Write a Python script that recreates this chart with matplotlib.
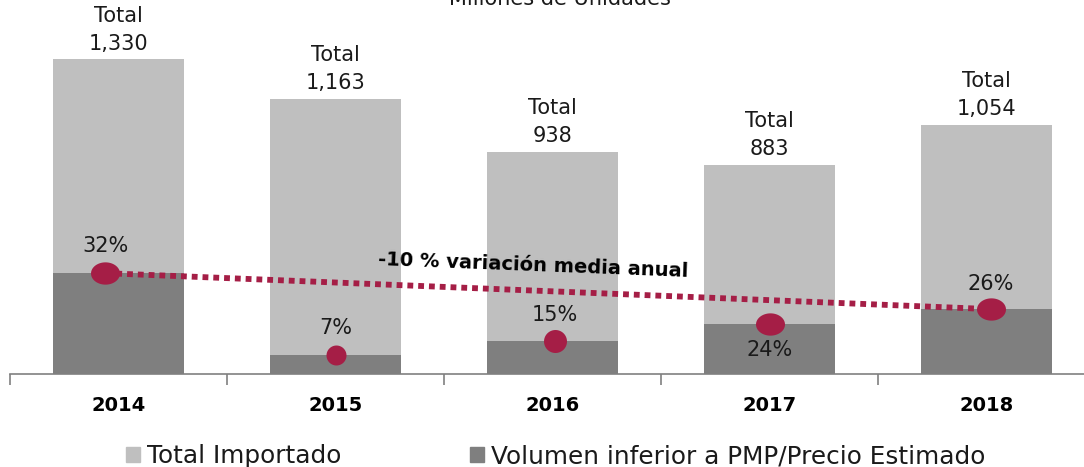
import matplotlib
matplotlib.use("Agg")
import matplotlib.pyplot as plt
from matplotlib.path import Path
from matplotlib.patches import Patch
import numpy as np

years = ["2014", "2015", "2016", "2017", "2018"]
total_importado = [1330, 1163, 938, 883, 1054]
volumen_inferior = [426, 81, 141, 212, 274]
pct_labels = ["32%", "7%", "15%", "24%", "26%"]
trend_label = "-10 % variación media anual"
title = "Millones de Unidades"
legend_labels = ["Total Importado", "Volumen inferior a PMP/Precio Estimado"]

LIGHT = "#BFBFBF"
DARK = "#7F7F7F"
RED = "#A51E46"
TXT = "#1a1a1a"

plt.rcParams['font.family'] = ['DejaVu Sans']

fig = plt.figure(figsize=(10.84, 4.67), dpi=100)
ax = fig.add_axes([10/1084, 93/467, 1085/1084, 374/467])
x = np.arange(len(years))
ax.bar(x, total_importado, width=0.6, color=LIGHT, zorder=2)
ax.bar(x, volumen_inferior, width=0.6, color=DARK, zorder=3)

# ellipse marker path
t = np.linspace(0, 2*np.pi, 60)
ell = Path(np.column_stack([1.3*np.cos(t), np.sin(t)]), closed=True)
circ = Path(np.column_stack([np.cos(t), np.sin(t)]), closed=True)

mx_off = [-0.06, 0.0, 0.01, 0.0, 0.02]
mx = x + np.array(mx_off)
sizes = [29, 20, 23, 29, 29]
paths = [ell, circ, circ, ell, ell]

# trend line
ax.plot([mx[0], mx[-1]], [volumen_inferior[0], volumen_inferior[-1]],
        color=RED, lw=4.2, linestyle=(0, (1.0, 0.85)), dash_capstyle='butt', zorder=4)

for i in range(len(years)):
    ax.plot(mx[i], volumen_inferior[i], marker=paths[i], markersize=sizes[i]/1.389,
            color=RED, markeredgewidth=0, zorder=5)

# Total labels
for i, v in enumerate(total_importado):
    ax.annotate(f"Total\n{v:,}", (x[i], v), xytext=(0, 4), textcoords='offset points',
                ha='center', va='bottom', fontsize=15, color=TXT, linespacing=1.5)

# percent labels
pct_offsets = [(0, 12), (0, 12), (0, 11), (0, -12), (0, 11)]
for i, lab in enumerate(pct_labels):
    dx, dy = pct_offsets[i]
    va = 'bottom' if dy > 0 else 'top'
    ax.annotate(lab, (mx[i], volumen_inferior[i]), xytext=(dx, dy), textcoords='offset points',
                ha='center', va=va, fontsize=15, color=TXT, zorder=6)

# trend text
ax.text(1.91, 458, trend_label, ha='center', va='center', fontsize=14, fontweight='bold',
        rotation=-2.2, rotation_mode='anchor', color='black', zorder=6)

# axes styling
for s in ['top', 'right', 'left']:
    ax.spines[s].set_visible(False)
ax.spines['bottom'].set_color('#808080')
ax.spines['bottom'].set_linewidth(1.2)
ax.set_yticks([])
ax.set_xticks(np.arange(-0.5, 4.6, 1.0), minor=False)
ax.set_xticklabels([])
ax.tick_params(axis='x', which='major', length=8, width=1.2, color='#808080', direction='out')
ax.set_xticks(x, minor=True)
ax.set_xticklabels(years, minor=True, fontsize=14, fontweight='bold')
ax.tick_params(axis='x', which='minor', length=0, pad=16)
ax.set_xlim(-0.5, 4.5)
ax.set_ylim(0, 1580)

fig.text(0.517, 1 - 5/467, title, ha='center', va='baseline', fontsize=15, color=TXT)

handles = [Patch(color=LIGHT), Patch(color=DARK)]
fig.legend(handles, legend_labels, loc='lower center', bbox_to_anchor=(0.513, -0.05), ncol=2,
           frameon=False, fontsize=17.8, handlelength=0.55, handleheight=0.55, handletextpad=0.3,
           columnspacing=5.2, labelcolor=TXT)

fig.savefig("out.png", dpi=100)
